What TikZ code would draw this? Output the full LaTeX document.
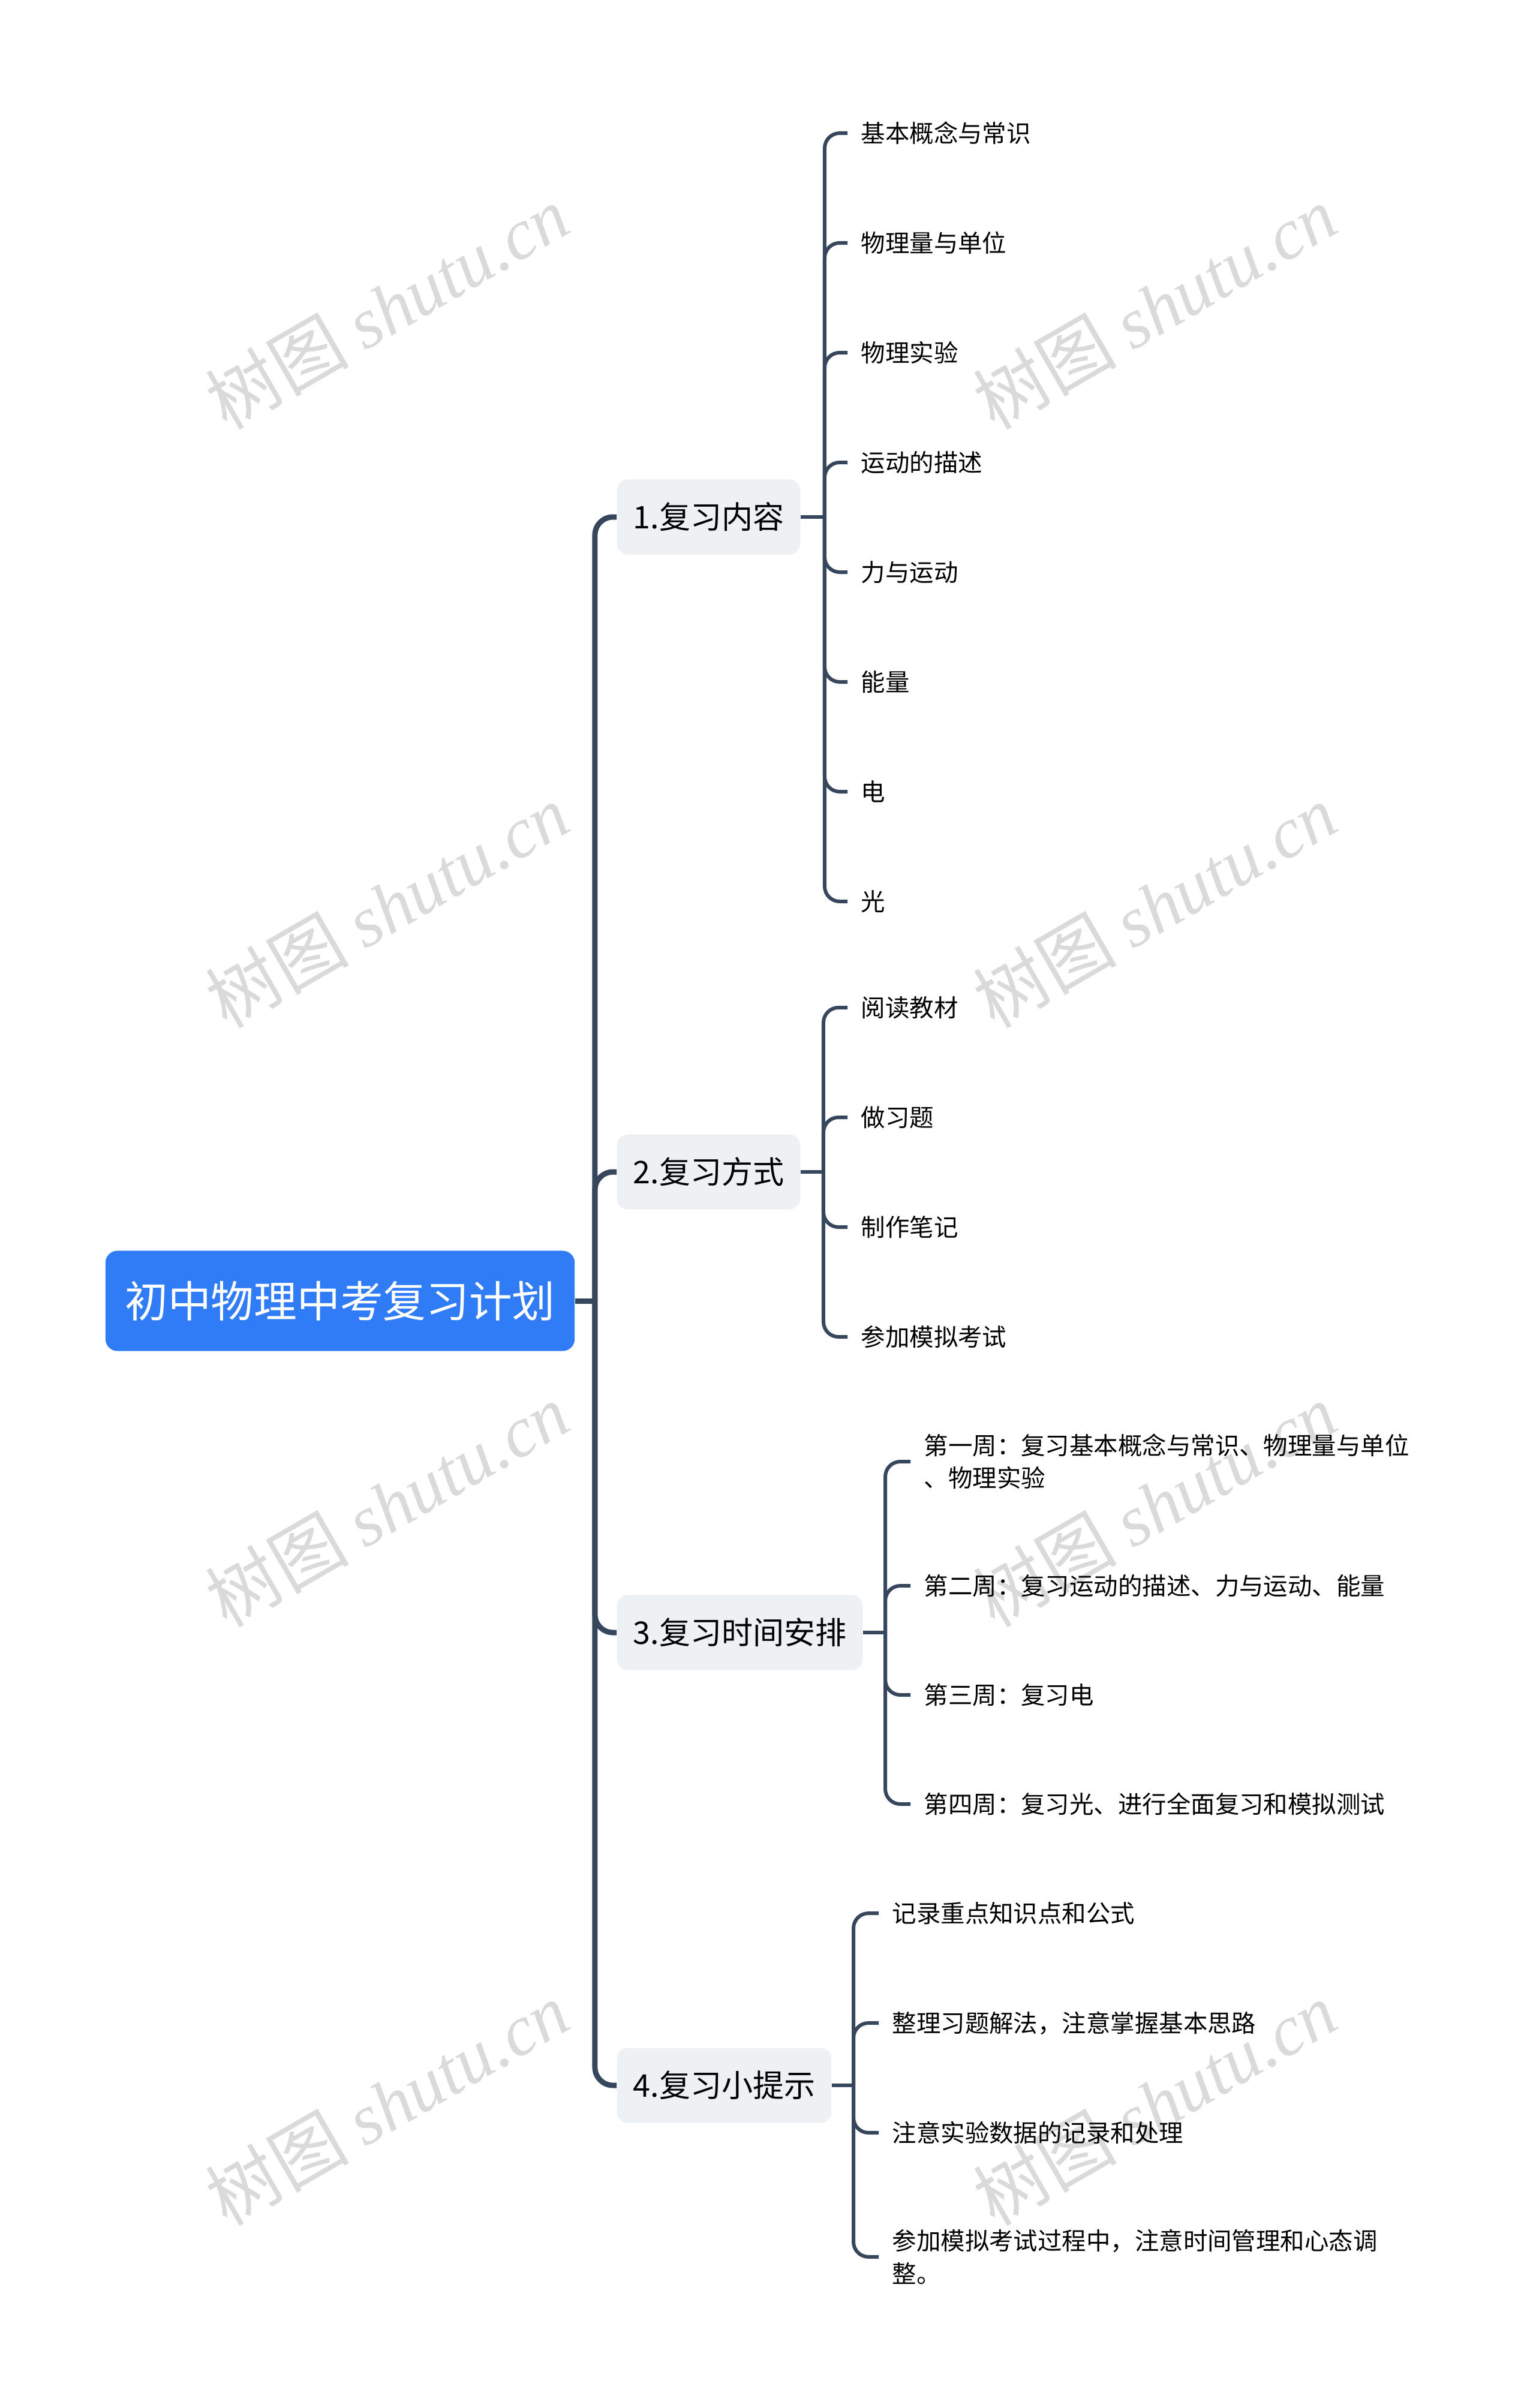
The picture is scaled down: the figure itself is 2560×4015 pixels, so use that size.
\documentclass[tikz,border=0pt]{standalone}
\usepackage{fontspec}
\usepackage{tikz}
\usetikzlibrary{positioning,calc}
\newfontfamily\cjk{Noto Sans CJK SC}
\newfontfamily\wmserif{Liberation Serif}
\definecolor{rootblue}{HTML}{2F7CF6}
\definecolor{topicgray}{HTML}{EEF1F4}
\definecolor{linkgray}{HTML}{36465C}
\definecolor{wmgray}{HTML}{DADADA}

\begin{document}
\begin{tikzpicture}[
        x=0.01cm, y=-0.01cm,
        % 样式
        rootbox/.style={rectangle, rounded corners=0.2cm, fill=rootblue, text=white, inner sep=0pt,
            minimum width=7.82cm, minimum height=1.67cm, font=\cjk\fontsize{20.4}{24}\selectfont},
        topic/.style={rectangle, rounded corners=0.18cm, fill=topicgray, anchor=west, inner xsep=0.27cm,
            minimum height=1.25cm, font=\cjk\fontsize{14.8}{18}\selectfont},
        leaf/.style={anchor=west, align=left, inner xsep=0.22cm, inner ysep=0pt,
            font=\cjk\fontsize{11.5}{15.4}\selectfont},
        trunk/.style={draw=linkgray, line width=0.09cm, rounded corners=0.3cm},
        twig/.style={draw=linkgray, line width=0.06cm, rounded corners=0.25cm},
        wmtext/.style={text=wmgray, rotate=30, font=\cjk\fontsize{34}{40}\selectfont}
    ]
        \useasboundingbox (0,0) rectangle (2560,4015);

        % 水印
        \node (wm1) [wmtext] at (645,512) {树图 {\wmserif\itshape shutu.cn}};
        \node (wm2) [wmtext] at (1925,512) {树图 {\wmserif\itshape shutu.cn}};
        \node (wm3) [wmtext] at (645,1510) {树图 {\wmserif\itshape shutu.cn}};
        \node (wm4) [wmtext] at (1925,1510) {树图 {\wmserif\itshape shutu.cn}};
        \node (wm5) [wmtext] at (645,2509) {树图 {\wmserif\itshape shutu.cn}};
        \node (wm6) [wmtext] at (1925,2509) {树图 {\wmserif\itshape shutu.cn}};
        \node (wm7) [wmtext] at (645,3507) {树图 {\wmserif\itshape shutu.cn}};
        \node (wm8) [wmtext] at (1925,3507) {树图 {\wmserif\itshape shutu.cn}};

        % 中心主题
        \node (root) [rootbox] at (567,2169) {初中物理中考复习计划};

        % 分支
        \node (content) [topic] at (1028,862) {1.复习内容};
        \node (method) [topic] at (1028,1954) {2.复习方式};
        \node (schedule) [topic] at (1028,2722) {3.复习时间安排};
        \node (tips) [topic] at (1028,3477) {4.复习小提示};

        % 1.复习内容
        \node (c1) [leaf] at (1413,222) {基本概念与常识};
        \node (c2) [leaf] at (1413,405) {物理量与单位};
        \node (c3) [leaf] at (1413,588) {物理实验};
        \node (c4) [leaf] at (1413,771) {运动的描述};
        \node (c5) [leaf] at (1413,954) {力与运动};
        \node (c6) [leaf] at (1413,1137) {能量};
        \node (c7) [leaf] at (1413,1320) {电};
        \node (c8) [leaf] at (1413,1503) {光};

        % 2.复习方式
        \node (m1) [leaf] at (1413,1680) {阅读教材};
        \node (m2) [leaf] at (1413,1863) {做习题};
        \node (m3) [leaf] at (1413,2046) {制作笔记};
        \node (m4) [leaf] at (1413,2229) {参加模拟考试};

        % 3.复习时间安排
        \node (s1) [leaf] at (1518,2437) {第一周：复习基本概念与常识、物理量与单位\\、物理实验};
        \node (s2) [leaf] at (1518,2644) {第二周：复习运动的描述、力与运动、能量};
        \node (s3) [leaf] at (1518,2826) {第三周：复习电};
        \node (s4) [leaf] at (1518,3008) {第四周：复习光、进行全面复习和模拟测试};

        % 4.复习小提示
        \node (t1) [leaf] at (1465,3190) {记录重点知识点和公式};
        \node (t2) [leaf] at (1465,3373) {整理习题解法，注意掌握基本思路};
        \node (t3) [leaf] at (1465,3556) {注意实验数据的记录和处理};
        \node (t4) [leaf] at (1465,3763) {参加模拟考试过程中，注意时间管理和心态调\\整。};

        % --- 连接线 ---

        % 中心到分支
        \draw [trunk] (root.east) -- ++(33,0) coordinate (hub);
        \draw [trunk] (hub) |- (content.west);
        \draw [trunk] (hub) |- (method.west);
        \draw [trunk] (hub) |- (schedule.west);
        \draw [trunk] (hub) |- (tips.west);

        % 分支到子项
        \draw [twig] (content.east) -- ++(40,0) coordinate (jc);
        \draw [twig] (method.east) -- ++(38,0) coordinate (jm);
        \draw [twig] (schedule.east) -- ++(37,0) coordinate (js);
        \draw [twig] (tips.east) -- ++(36,0) coordinate (jt);

        \draw [twig] (jc) |- (c1.west);
        \draw [twig] (jc) |- (c2.west);
        \draw [twig] (jc) |- (c3.west);
        \draw [twig] (jc) |- (c4.west);
        \draw [twig] (jc) |- (c5.west);
        \draw [twig] (jc) |- (c6.west);
        \draw [twig] (jc) |- (c7.west);
        \draw [twig] (jc) |- (c8.west);

        \draw [twig] (jm) |- (m1.west);
        \draw [twig] (jm) |- (m2.west);
        \draw [twig] (jm) |- (m3.west);
        \draw [twig] (jm) |- (m4.west);

        \draw [twig] (js) |- (s1.west);
        \draw [twig] (js) |- (s2.west);
        \draw [twig] (js) |- (s3.west);
        \draw [twig] (js) |- (s4.west);

        \draw [twig] (jt) |- (t1.west);
        \draw [twig] (jt) |- (t2.west);
        \draw [twig] (jt) |- (t3.west);
        \draw [twig] (jt) |- (t4.west);

    \end{tikzpicture}
\end{document}
